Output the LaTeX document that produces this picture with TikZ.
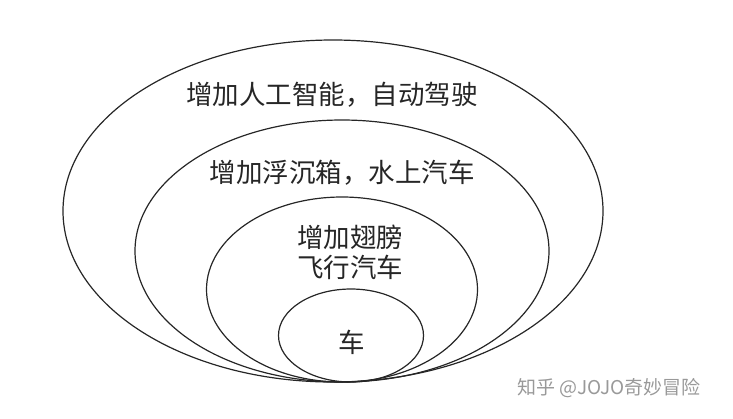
\documentclass[tikz,border=0pt]{standalone}
\usepackage{fontspec}
\setmainfont{Noto Sans CJK SC}
\usepackage{tikz}
\usetikzlibrary{shapes.geometric, positioning}

\begin{document}
\begin{tikzpicture}[x=1pt, y=-1pt,
  layer/.style={ellipse, draw=black!85, line width=1.2pt, inner sep=0pt},
  words/.style={font=\fontsize{26.5}{30}\selectfont, text=black!85, align=center, inner sep=0pt}
]
  \useasboundingbox (0,0) rectangle (733,418);

  \node[layer, minimum width=540pt, minimum height=342pt] (ai)    at (333,211)   {};
  \node[layer, minimum width=414pt, minimum height=262pt] (boat)  at (342,251)   {};
  \node[layer, minimum width=271pt, minimum height=185pt] (fly)   at (342,289.5) {};
  \node[layer, minimum width=145pt, minimum height=93pt]  (car)   at (351,335.5) {};

  \node[words] (tai)   at (332,95)  {增加人工智能，自动驾驶};
  \node[words] (tboat) at (342,173) {增加浮沉箱，水上汽车};
  \node[words] (tfly)  at (350,252) {增加翅膀\\飞行汽车};
  \node[words] (tcar)  at (352,342) {车};

  \node[font=\fontsize{19}{22}\selectfont, text=black!40, inner sep=0pt] (wm) at (609,388) {知乎 @JOJO奇妙冒险};
\end{tikzpicture}
\end{document}
